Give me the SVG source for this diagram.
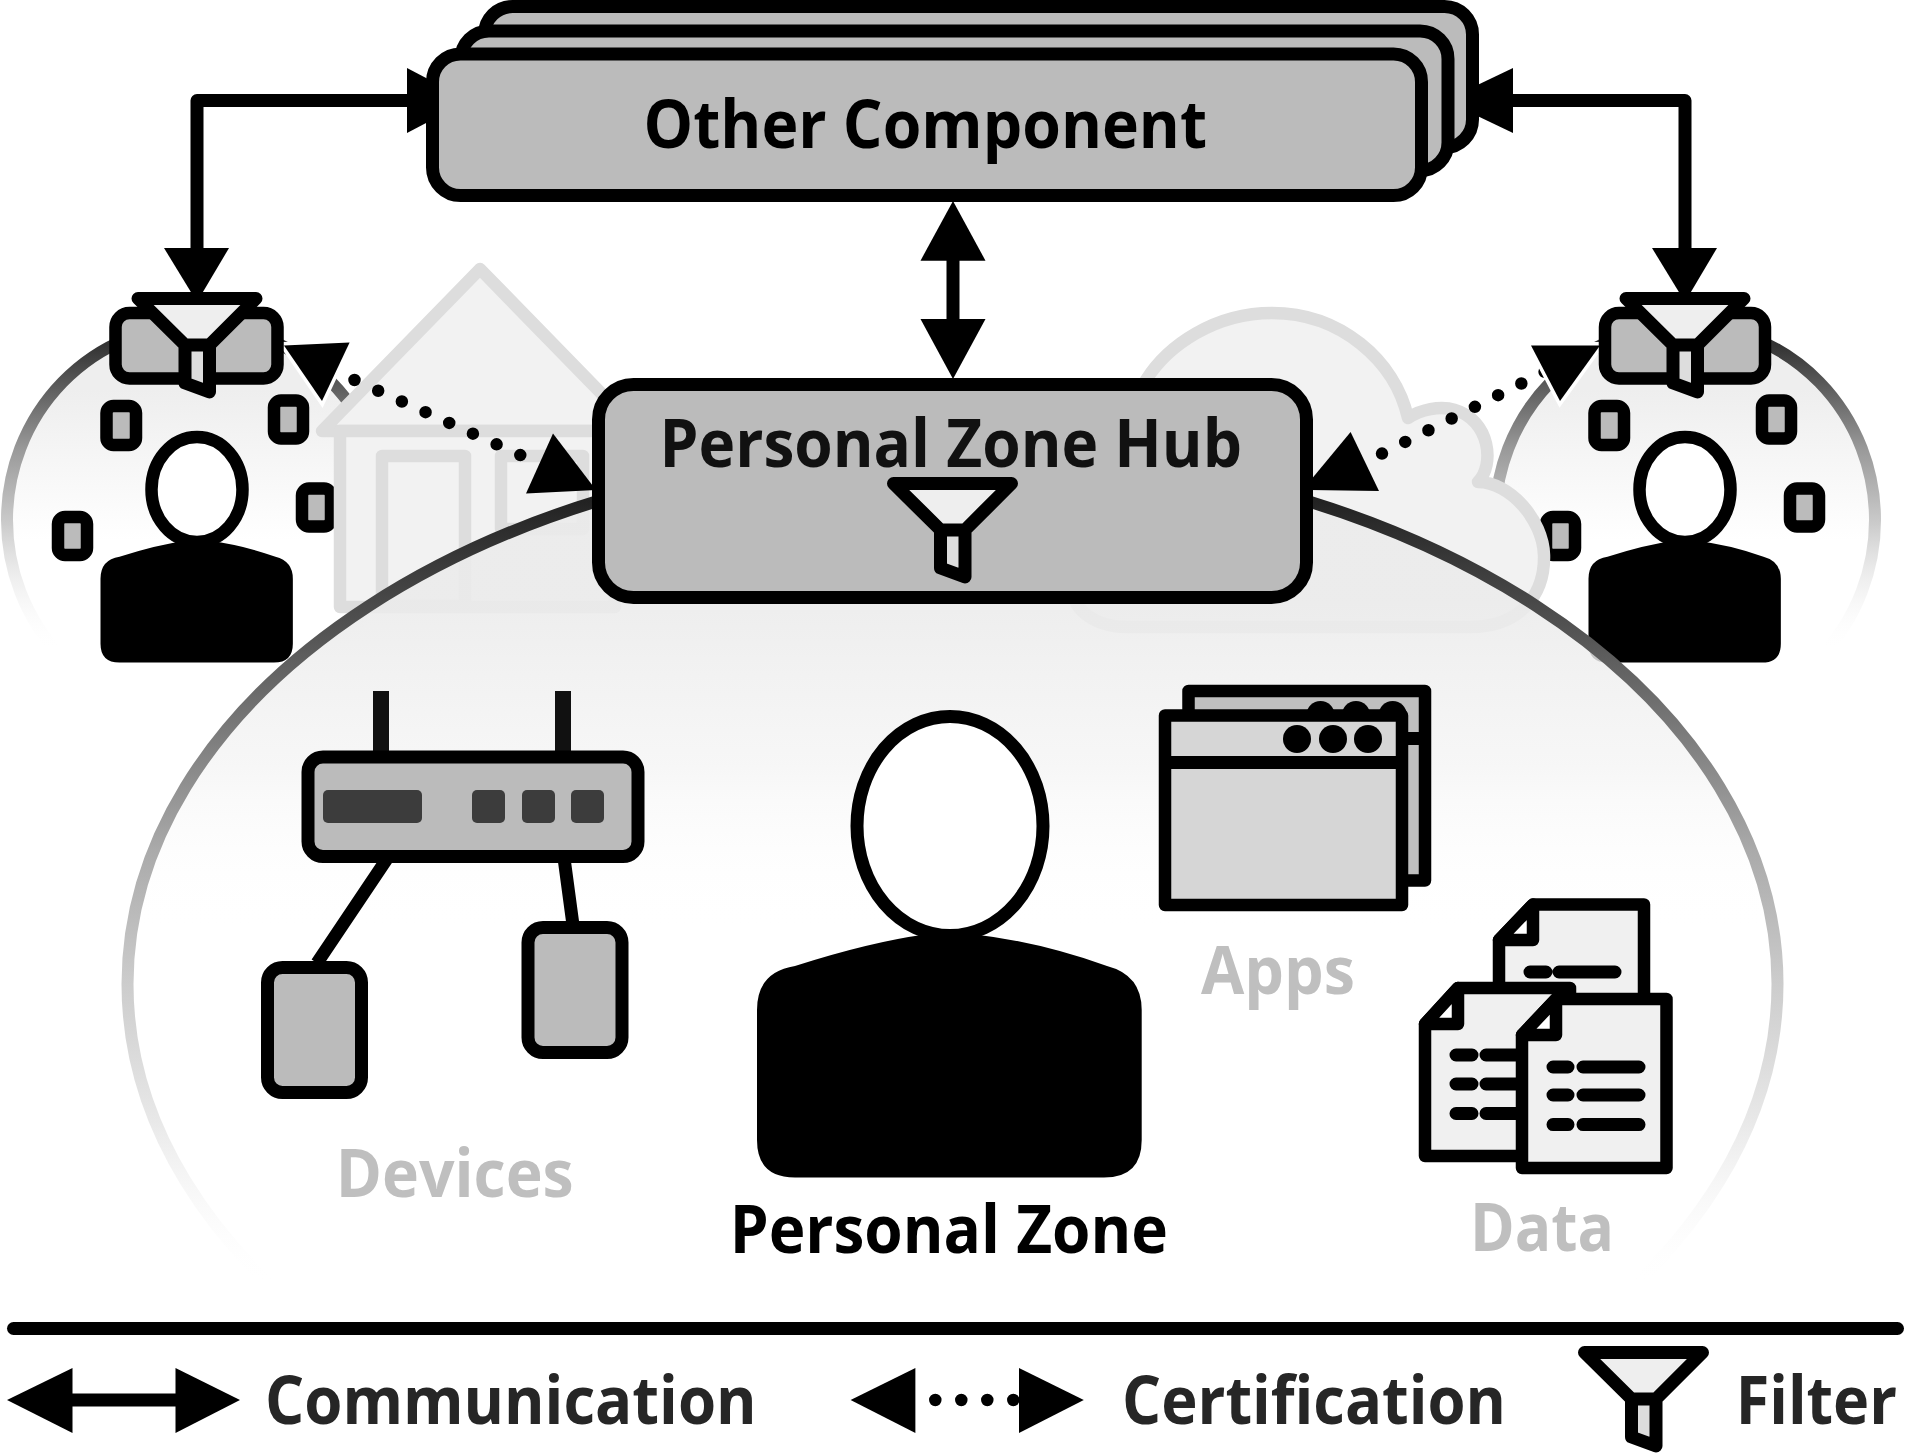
<svg xmlns="http://www.w3.org/2000/svg" xmlns:xlink="http://www.w3.org/1999/xlink" width="1905" height="1454" viewBox="0 0 1905 1454">
<style>
text{font-family:"Open Sans","Noto Sans","DejaVu Sans",sans-serif;font-weight:700;font-size:66px}
.box{fill:#bbb;stroke:#000;stroke-width:13}
.sq{fill:#bbb;stroke:#000;stroke-width:12.5}
.ln{fill:none;stroke:#000;stroke-width:13;stroke-linejoin:round}
.dot{fill:none;stroke:#000;stroke-width:12.5;stroke-linecap:round;stroke-dasharray:0 26}
.head{fill:#000}
.halo{fill:#000;stroke:#fff;stroke-width:7;paint-order:stroke}
.hs{fill:#f2f2f2;stroke:#ddd;stroke-width:12.5;stroke-linejoin:round}
.slot{fill:#3c3c3c}
.doc{fill:#f0f0f0;stroke:#000;stroke-width:12.5;stroke-linejoin:round}
.tl{fill:none;stroke:#000;stroke-width:13;stroke-linecap:round}
.g{fill:#bfbfbf}
.lg{fill:#262626}
</style>
<defs>
<linearGradient id="zs" gradientUnits="userSpaceOnUse" x1="0" y1="500" x2="0" y2="1285">
<stop offset="0" stop-color="#222"/><stop offset="0.23" stop-color="#666"/><stop offset="0.446" stop-color="#aaa"/><stop offset="0.616" stop-color="#ccc"/><stop offset="0.79" stop-color="#e8e8e8"/><stop offset="1" stop-color="#fff" stop-opacity="0"/>
</linearGradient>
<linearGradient id="zf" gradientUnits="userSpaceOnUse" x1="0" y1="600" x2="0" y2="930">
<stop offset="0" stop-color="#ebebeb" stop-opacity="0.88"/><stop offset="0.5" stop-color="#f4f4f4" stop-opacity="0.75"/><stop offset="1" stop-color="#fff" stop-opacity="0"/>
</linearGradient>
<linearGradient id="ms" gradientUnits="userSpaceOnUse" x1="0" y1="345" x2="0" y2="650">
<stop offset="0" stop-color="#333"/><stop offset="0.34" stop-color="#999"/><stop offset="0.59" stop-color="#ccc"/><stop offset="1" stop-color="#fff" stop-opacity="0"/>
</linearGradient>
<linearGradient id="mf" gradientUnits="userSpaceOnUse" x1="0" y1="390" x2="0" y2="540">
<stop offset="0" stop-color="#eee"/><stop offset="1" stop-color="#fff"/>
</linearGradient>
<path id="body" d="M795,966 Q870,942 925,934.5 H975 Q1040,942 1107,966 Q1141.7,975 1141.7,1010 V1140 Q1141.7,1177.6 1104,1177.6 H795 Q757,1177.6 757,1140 V1010 Q757,972 795,966 Z"/>
<g id="filter">
<polygon points="138,298.5 256,298.5 209.5,345 185,345" fill="#eee"/>
<polygon points="185,345 209.5,345 209.5,392 185,383" fill="#ddd"/>
<path class="ln" d="M138,298.5 H256 L209.5,345 V392 L185,383 V345 Z M185,345 H209.5"/>
</g>
<g id="mini">
<ellipse cx="197" cy="520" rx="190" ry="195" fill="url(#mf)" stroke="url(#ms)" stroke-width="12"/>
<ellipse cx="197" cy="489.5" rx="45.5" ry="52.5" fill="#fff" stroke="#000" stroke-width="12.5"/>
<use xlink:href="#body" href="#body" transform="translate(-278 73.8) scale(0.5)"/>
<rect class="sq" x="106.5" y="406" width="29.5" height="39" rx="7"/>
<rect class="sq" x="274" y="400.5" width="29" height="38" rx="7"/>
<rect class="sq" x="302" y="488.5" width="29" height="38" rx="7"/>
<rect class="sq" x="58" y="517" width="29" height="38" rx="7"/>
</g>
</defs>
<rect width="1905" height="1454" fill="#fff"/>

<g id="zone-left"><use xlink:href="#mini" href="#mini"/></g>
<g id="zone-right"><use xlink:href="#mini" href="#mini" transform="translate(1488 0)"/></g>

<g id="house">
<polygon class="hs" points="480,269 322,431 638,431"/>
<rect class="hs" x="340" y="431" width="275" height="176"/>
<rect class="hs" x="382" y="456" width="83" height="150"/>
<rect class="hs" x="501" y="456" width="82" height="73"/>
</g>
<g id="cloud">
<path class="hs" d="M1127,627 H1470 C1520,627 1545,595 1544,555 C1543,520 1510,482 1478,482 C1495,465 1490,420 1455,410 C1440,405 1420,410 1408,418 C1395,360 1340,313 1272,313 C1215,313 1168,345 1146,380 L1073,590 C1073,610 1095,627 1127,627 Z"/>
</g>

<g id="personal-zone">
<ellipse cx="952.5" cy="984" rx="825" ry="535" fill="url(#zf)" stroke="url(#zs)" stroke-width="12"/>
</g>

<g id="connectors">
<path class="ln" d="M420,100.5 H197 V260"/>
<polygon class="head" points="407,68 407,133 469,100.5"/>
<polygon class="head" points="164,248 229,248 197,302"/>
<path class="ln" d="M1500,100.5 H1685 V260"/>
<polygon class="head" points="1513,68 1513,133 1445,100.5"/>
<polygon class="head" points="1652,248 1717,248 1685,302"/>
<path class="ln" d="M953,250 V330"/>
<polygon class="head" points="953,201 920.5,260.7 985.5,260.7"/>
<polygon class="head" points="953,379 920.5,319 985.5,319"/>
<path class="dot" d="M354.5,380 L530,459.5"/>
<polygon class="halo" points="284,345.6 349.6,342.6 322,401"/>
<polygon class="head" points="553,433.6 526,493.5 596,490"/>
<path class="dot" d="M1382,453.6 L1560,364"/>
<polygon class="halo" points="1531,345.6 1600,345.6 1560,401"/>
<polygon class="head" points="1350.6,432 1310,481 1310,490 1379,491"/>
</g>

<g id="other-component">
<rect class="box" x="484.5" y="6.5" width="988" height="141" rx="28"/>
<rect class="box" x="461" y="31" width="987" height="139.5" rx="28"/>
<rect class="box" x="432.5" y="54" width="989" height="141.5" rx="28"/>
<text x="643.5" y="148.3" textLength="563.5" lengthAdjust="spacingAndGlyphs" fill="#000">Other Component</text>
</g>

<g id="hub-filter-left">
<rect class="sq" x="115.5" y="313" width="162" height="65.5" rx="14"/>
<use xlink:href="#filter" href="#filter"/>
</g>
<g id="hub-filter-right">
<rect class="sq" x="1605" y="313" width="160" height="65.5" rx="14"/>
<use xlink:href="#filter" href="#filter" transform="translate(1488 0)"/>
</g>

<g id="hub">
<rect class="box" x="598.5" y="384.5" width="708" height="213" rx="35"/>
<text x="659.5" y="467.3" textLength="582.5" lengthAdjust="spacingAndGlyphs" fill="#111">Personal Zone Hub</text>
<use xlink:href="#filter" href="#filter" transform="translate(755.5 185)"/>
</g>

<g id="devices">
<path class="ln" d="M381,691 V755 M563,691 V755" stroke-linecap="butt" style="stroke:#111;stroke-width:16"/>
<path class="ln" d="M387.5,858 L317,963 M564,858 L573,925"/>
<rect class="box" x="308" y="757" width="330" height="99.5" rx="15"/>
<rect class="slot" x="323" y="790" width="99" height="33" rx="5"/>
<rect class="slot" x="472" y="790" width="33" height="33" rx="5"/>
<rect class="slot" x="522" y="790" width="33" height="33" rx="5"/>
<rect class="slot" x="571" y="790" width="33" height="33" rx="5"/>
<rect class="box" x="267.5" y="967.5" width="94" height="125" rx="15"/>
<rect class="box" x="528" y="927.5" width="94" height="125" rx="15"/>
<text class="g" x="335.7" y="1197" textLength="238" lengthAdjust="spacingAndGlyphs">Devices</text>
</g>

<g id="person">
<ellipse cx="950" cy="826" rx="93" ry="109.5" fill="#fff" stroke="#000" stroke-width="13"/>
<use xlink:href="#body" href="#body"/>
<text x="729.7" y="1253" textLength="438.3" lengthAdjust="spacingAndGlyphs" fill="#000">Personal Zone</text>
</g>

<g id="apps">
<rect x="1188.5" y="691" width="236.5" height="189.5" fill="#bfbfbf" stroke="#000" stroke-width="12.5" stroke-linejoin="round"/>
<path class="ln" d="M1188.5,738.5 H1425"/>
<circle cx="1320.5" cy="715" r="14"/><circle cx="1356" cy="715" r="14"/><circle cx="1392.7" cy="715" r="14"/>
<rect x="1165" y="715.5" width="237" height="189.5" fill="#d6d6d6" stroke="#000" stroke-width="12.5" stroke-linejoin="round"/>
<path class="ln" d="M1165,762.5 H1402"/>
<circle cx="1297" cy="739" r="14"/><circle cx="1333" cy="739" r="14"/><circle cx="1368" cy="739" r="14"/>
<text class="g" x="1201" y="994" textLength="154" lengthAdjust="spacingAndGlyphs">Apps</text>
</g>

<g id="data">
<path class="doc" d="M1499,940 L1533,904.5 H1644 V1100 H1499 Z"/>
<path class="doc" d="M1533,904.5 V940 H1499 Z" style="fill:#fff"/>
<path class="tl" d="M1530,972 H1546 M1559,972 H1615"/>
<path class="doc" d="M1425,1024 L1458,988 H1570 V1156 H1425 Z"/>
<path class="doc" d="M1458,988 V1024 H1425 Z" style="fill:#fff"/>
<path class="tl" d="M1456,1055 H1472 M1486,1055 H1525 M1456,1084 H1472 M1486,1084 H1525 M1456,1113.5 H1472 M1486,1113.5 H1525"/>
<path class="doc" d="M1522,1035 L1556,999 H1666.5 V1168 H1522 Z"/>
<path class="doc" d="M1556,999 V1035 H1522 Z" style="fill:#fff"/>
<path class="tl" d="M1553,1067 H1568 M1583,1067 H1639 M1553,1095 H1568 M1583,1095 H1639 M1553,1124.6 H1568 M1583,1124.6 H1639"/>
<text class="g" x="1470" y="1251" textLength="144" lengthAdjust="spacingAndGlyphs">Data</text>
</g>

<g id="legend">
<path d="M13.5,1328.5 H1897.5" fill="none" stroke="#000" stroke-width="13" stroke-linecap="round"/>
<path class="ln" d="M72,1400 H176"/>
<polygon class="head" points="7,1400 72.5,1368 72.5,1433"/>
<polygon class="head" points="240,1400 175.5,1368 175.5,1433"/>
<text class="lg" x="265" y="1424.3" textLength="491.6" lengthAdjust="spacingAndGlyphs">Communication</text>
<path class="dot" d="M935.3,1400 H1015"/>
<polygon class="head" points="850.6,1400 915.4,1368 915.4,1433"/>
<polygon class="head" points="1083.8,1400 1019,1368 1019,1433"/>
<text class="lg" x="1122" y="1424.3" textLength="384" lengthAdjust="spacingAndGlyphs">Certification</text>
<use xlink:href="#filter" href="#filter" transform="translate(1446.5 1054)"/>
<text class="lg" x="1735.7" y="1424.3" textLength="161.3" lengthAdjust="spacingAndGlyphs">Filter</text>
</g>
</svg>
